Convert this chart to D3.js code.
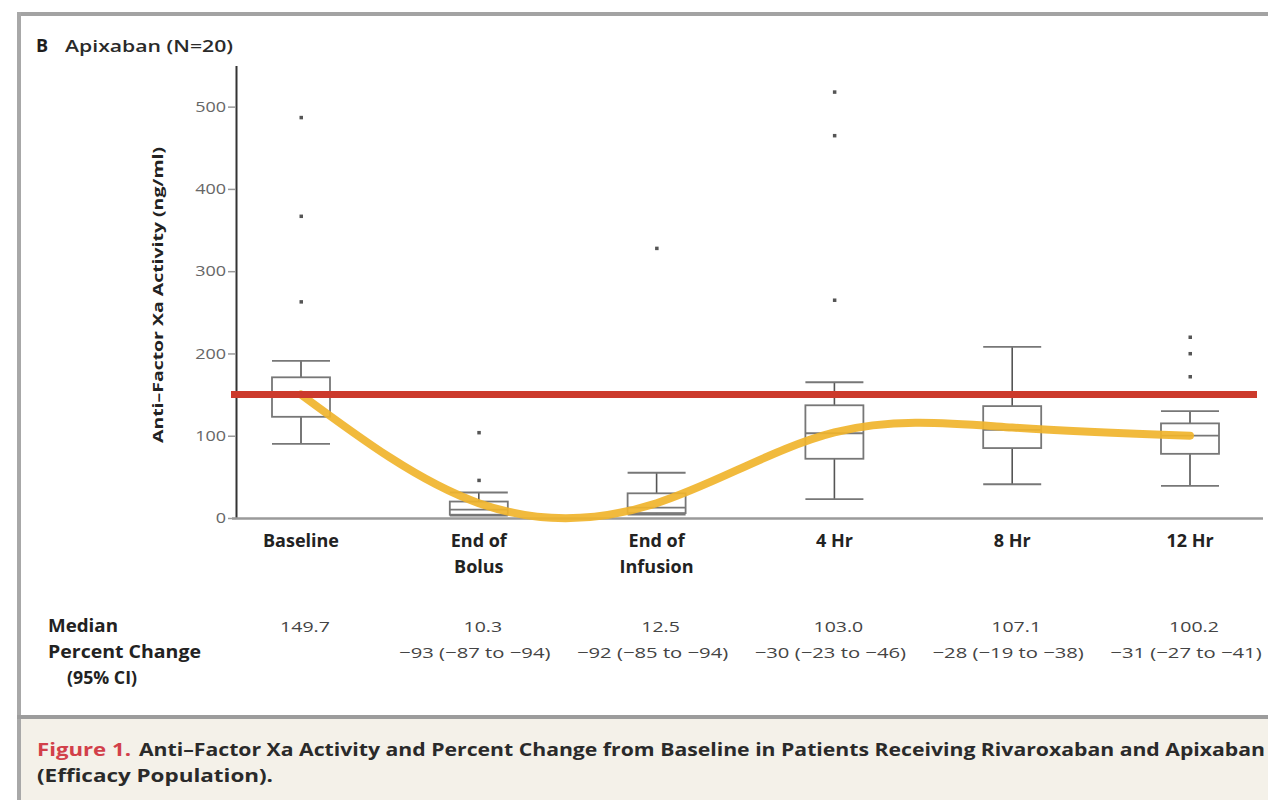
<!DOCTYPE html>
<html>
<head>
<meta charset="utf-8">
<script src="https://cdn.jsdelivr.net/npm/d3@7"></script>
<style>
  body { margin: 0; background: #fff; }
  svg { display: block; font-family: "Open Sans", "Noto Sans", sans-serif; }
</style>
</head>
<body>
<svg id="chart" width="1268" height="800"></svg>
<script>
// values (ng/ml)
const categories = ['Baseline', 'End of Bolus', 'End of Infusion', '4 Hr', '8 Hr', '12 Hr'];
const categoryLines = [['Baseline'], ['End of', 'Bolus'], ['End of', 'Infusion'], ['4 Hr'], ['8 Hr'], ['12 Hr']];
const whiskerLow = [90, 3, 4, 23, 41, 39];
const q1 = [123, 4, 6, 72, 85, 78];
const medians = [149.7, 10.3, 12.5, 103.0, 107.1, 100.2];
const q3 = [171, 20, 30, 137, 136, 115];
const whiskerHigh = [191, 31, 55, 165, 208, 130];
const outliers = [[263, 367, 487], [46, 104], [328], [265, 465, 518], [], [172, 200, 220]];
const trend = [150, 18, 18, 104, 110, 100];   // yellow hand-drawn trend
const threshold = 150;                         // red reference line
const yTicks = [0, 100, 200, 300, 400, 500];
const medianLabels = ['149.7', '10.3', '12.5', '103.0', '107.1', '100.2'];
const pctLabels = ['', '\u221293 (\u221287 to \u221294)', '\u221292 (\u221285 to \u221294)',
                   '\u221230 (\u221223 to \u221246)', '\u221228 (\u221219 to \u221238)', '\u221231 (\u221227 to \u221241)'];

const svg = d3.select('#chart');

const x = d3.scalePoint().domain(categories).range([301, 1190]);
const y = d3.scaleLinear().domain([0, 550]).range([518, 65.5]);
const boxW = 58;

// widen text a bit, the original face is broad
const stretch = (sel, k) => sel.each(function () {
    const w = this.getComputedTextLength();
    if (w > 0) d3.select(this).attr('textLength', w * k).attr('lengthAdjust', 'spacingAndGlyphs');
});

// frame
svg.append('rect')
    .attr('x', 19).attr('y', 719).attr('width', 1249).attr('height', 81)
    .attr('fill', '#f4f1e9');
svg.append('line')
    .attr('x1', 17).attr('x2', 1268).attr('y1', 14).attr('y2', 14)
    .attr('stroke', '#a3a3a3').attr('stroke-width', 4);
svg.append('line')
    .attr('x1', 19).attr('x2', 19).attr('y1', 12).attr('y2', 800)
    .attr('stroke', '#a8a8a8').attr('stroke-width', 4);
svg.append('line')
    .attr('x1', 17).attr('x2', 1268).attr('y1', 717).attr('y2', 717)
    .attr('stroke', '#9c9c9c').attr('stroke-width', 4);

// title
svg.append('text')
    .attr('x', 36).attr('y', 52)
    .attr('font-size', 18).attr('font-weight', 700).attr('fill', '#1e1e1e')
    .text('B');
svg.append('text')
    .attr('x', 65).attr('y', 52)
    .attr('font-size', 16).attr('font-weight', 600).attr('fill', '#2a2a2a')
    .attr('textLength', 168).attr('lengthAdjust', 'spacingAndGlyphs')
    .text('Apixaban (N=20)');

// y axis
const yAxis = svg.append('g')
    .attr('transform', 'translate(236,0)')
    .call(d3.axisLeft(y).tickValues(yTicks).tickSize(8).tickSizeOuter(0).tickPadding(2));
yAxis.select('.domain').attr('stroke', '#333').attr('stroke-width', 2);
yAxis.selectAll('.tick line').attr('stroke', '#999').attr('stroke-width', 1.5);
yAxis.selectAll('.tick text')
    .attr('font-size', 15).attr('fill', '#666')
    .attr('font-family', '"Open Sans", sans-serif')
    .call(stretch, 1.2);

svg.append('text')
    .attr('transform', 'translate(163,295) rotate(-90)')
    .attr('text-anchor', 'middle')
    .attr('font-size', 15).attr('font-weight', 700).attr('fill', '#222')
    .attr('textLength', 296).attr('lengthAdjust', 'spacingAndGlyphs')
    .text('Anti\u2013Factor Xa Activity (ng/ml)');

// x axis line
svg.append('line')
    .attr('x1', 232).attr('x2', 1263)
    .attr('y1', y(0) + 0.5).attr('y2', y(0) + 0.5)
    .attr('stroke', '#9a9a9a').attr('stroke-width', 2.5);

// box plots
const boxes = svg.append('g').attr('class', 'boxes')
    .selectAll('g')
    .data(categories)
    .enter().append('g')
    .attr('transform', d => `translate(${x(d)},0)`);

boxes.append('line')
    .attr('y1', (d, i) => y(whiskerLow[i]))
    .attr('y2', (d, i) => y(whiskerHigh[i]))
    .attr('stroke', '#555').attr('stroke-width', 1.6);

boxes.append('line')
    .attr('x1', -boxW / 2).attr('x2', boxW / 2)
    .attr('y1', (d, i) => y(whiskerHigh[i])).attr('y2', (d, i) => y(whiskerHigh[i]))
    .attr('stroke', '#777').attr('stroke-width', 1.8);
boxes.append('line')
    .attr('x1', -boxW / 2).attr('x2', boxW / 2)
    .attr('y1', (d, i) => y(whiskerLow[i])).attr('y2', (d, i) => y(whiskerLow[i]))
    .attr('stroke', '#777').attr('stroke-width', 1.8);

boxes.append('rect')
    .attr('x', -boxW / 2).attr('width', boxW)
    .attr('y', (d, i) => y(q3[i]))
    .attr('height', (d, i) => y(q1[i]) - y(q3[i]))
    .attr('fill', '#fff')
    .attr('stroke', '#777').attr('stroke-width', 1.8);

boxes.append('line')
    .attr('x1', -boxW / 2).attr('x2', boxW / 2)
    .attr('y1', (d, i) => y(medians[i])).attr('y2', (d, i) => y(medians[i]))
    .attr('stroke', '#777').attr('stroke-width', 1.8);

boxes.selectAll('rect.out')
    .data((d, i) => outliers[i])
    .enter().append('rect')
    .attr('class', 'out')
    .attr('x', -1.5).attr('width', 3.5)
    .attr('y', v => y(v) - 1.5).attr('height', 3.5)
    .attr('fill', '#555');

// yellow trend
const trendLine = d3.line()
    .x((d, i) => x(categories[i]))
    .y(d => y(d))
    .curve(d3.curveNatural);

svg.append('path')
    .datum(trend)
    .attr('d', trendLine)
    .attr('fill', 'none')
    .attr('stroke', '#f0b42c')
    .attr('stroke-width', 8)
    .attr('stroke-linecap', 'round')
    .attr('opacity', 0.92);

// red reference line
svg.append('line')
    .attr('x1', 231).attr('x2', 1257)
    .attr('y1', y(threshold)).attr('y2', y(threshold))
    .attr('stroke', '#cc3a2c').attr('stroke-width', 7);

// category labels
const catLabels = svg.append('g')
    .selectAll('text')
    .data(categories)
    .enter().append('text')
    .attr('x', d => x(d))
    .attr('y', 547)
    .attr('text-anchor', 'middle')
    .attr('font-size', 18).attr('font-weight', 700).attr('fill', '#222');

catLabels.selectAll('tspan')
    .data((d, i) => categoryLines[i])
    .enter().append('tspan')
    .attr('x', function () { return this.parentNode.getAttribute('x'); })
    .attr('dy', (d, j) => j === 0 ? 0 : 26)
    .text(d => d);

// table
const rowLabel = svg.append('g')
    .attr('font-size', 17).attr('font-weight', 700).attr('fill', '#222');
rowLabel.append('text').attr('x', 48).attr('y', 632)
    .attr('textLength', 70).attr('lengthAdjust', 'spacingAndGlyphs')
    .text('Median');
rowLabel.append('text').attr('x', 48).attr('y', 658)
    .attr('textLength', 153).attr('lengthAdjust', 'spacingAndGlyphs')
    .text('Percent Change');
rowLabel.append('text').attr('x', 67).attr('y', 684)
    .attr('textLength', 70).attr('lengthAdjust', 'spacingAndGlyphs')
    .text('(95% CI)');

svg.append('g').selectAll('text')
    .data(medianLabels)
    .enter().append('text')
    .attr('x', (d, i) => x(categories[i]) + 4)
    .attr('y', 632)
    .attr('text-anchor', 'middle')
    .attr('font-size', 15).attr('fill', '#444')
    .text(d => d)
    .call(stretch, 1.3);

svg.append('g').selectAll('text')
    .data(pctLabels)
    .enter().append('text')
    .attr('x', (d, i) => x(categories[i]) - 4)
    .attr('y', 658)
    .attr('text-anchor', 'middle')
    .attr('font-size', 15).attr('fill', '#444')
    .text(d => d)
    .call(stretch, 1.35);

// caption
svg.append('text')
    .attr('x', 37).attr('y', 756)
    .attr('font-size', 18).attr('font-weight', 700).attr('fill', '#d2404a')
    .attr('textLength', 94).attr('lengthAdjust', 'spacingAndGlyphs')
    .text('Figure 1.');
svg.append('text')
    .attr('x', 139).attr('y', 756)
    .attr('font-size', 18).attr('font-weight', 700).attr('fill', '#2a2a2a')
    .attr('textLength', 1126).attr('lengthAdjust', 'spacingAndGlyphs')
    .text('Anti\u2013Factor Xa Activity and Percent Change from Baseline in Patients Receiving Rivaroxaban and Apixaban');
svg.append('text')
    .attr('x', 37).attr('y', 782)
    .attr('font-size', 18).attr('font-weight', 700).attr('fill', '#2a2a2a')
    .attr('textLength', 236).attr('lengthAdjust', 'spacingAndGlyphs')
    .text('(Efficacy Population).');
</script>
</body>
</html>
